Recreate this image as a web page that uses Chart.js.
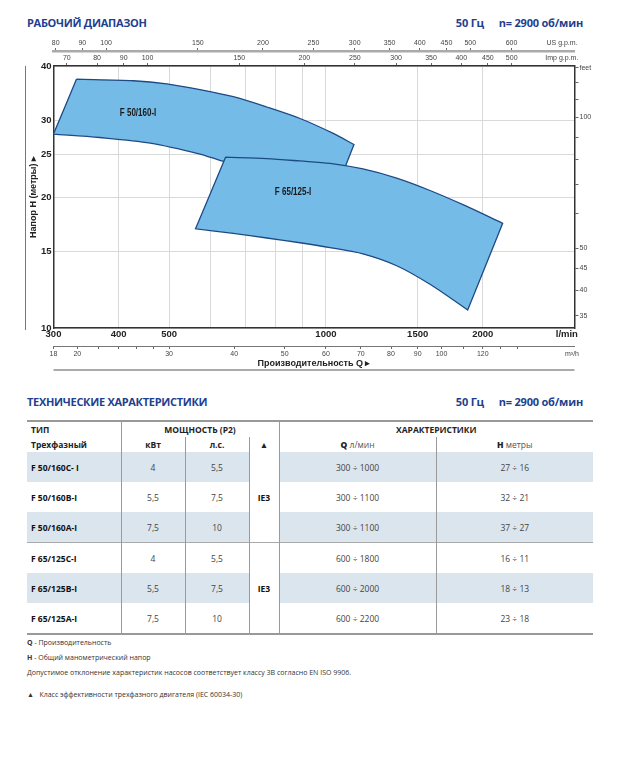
<!DOCTYPE html>
<html>
<head>
<meta charset="utf-8">
<script src="https://cdn.jsdelivr.net/npm/chart.js@4.4.1/dist/chart.umd.min.js"></script>
<style>
  body { margin: 0; width: 621px; height: 768px; background: #fff; position: relative; font-family: 'Open Sans', sans-serif; overflow: hidden; }
  .title { position: absolute; left: 27px; font-size: 11px; line-height: 13px; font-weight: bold; color: #1f3f8f; letter-spacing: -0.3px; white-space: nowrap; }
  .freq { position: absolute; font-size: 11px; line-height: 13px; font-weight: bold; color: #1f3f8f; letter-spacing: -0.2px; white-space: nowrap; }
  #chartBox { position: absolute; left: 0; top: 0; width: 621px; height: 385px; }
  table { position: absolute; left: 27px; top: 420px; width: 566px; border-collapse: collapse; table-layout: fixed; font-size: 8.5px; color: #444; }
  table td { padding: 0; text-align: center; white-space: nowrap; }
  table tr.h td { height: 15px; font-weight: bold; color: #222; }
  table tr.d td { height: 30px; }
  table td.name { text-align: left; padding-left: 4px; font-weight: bold; color: #111; }
  table tr.sh td { background: #dbe5ee; }
  table td.ie { background: #fff !important; font-weight: bold; color: #111; }
  .vl { border-left: 1px solid #9a9a9a; }
  .notes { position: absolute; left: 27px; font-size: 7px; color: #333; white-space: nowrap; }
</style>
</head>
<body>
<div class="title" style="top:16px">РАБОЧИЙ ДИАПАЗОН</div>
<div class="freq" style="top:16px;right:137px">50 Гц</div>
<div class="freq" style="top:16px;right:38px">n= 2900 об/мин</div>
<div id="chartBox"><canvas id="rangeChart"></canvas></div>

<div class="title" style="top:395px">ТЕХНИЧЕСКИЕ ХАРАКТЕРИСТИКИ</div>
<div class="freq" style="top:395px;right:137px">50 Гц</div>
<div class="freq" style="top:395px;right:38px">n= 2900 об/мин</div>

<table id="techTable">
  <colgroup><col style="width:94px"><col style="width:64px"><col style="width:64px"><col style="width:30px"><col style="width:157px"><col style="width:157px"></colgroup>
  <tbody></tbody>
</table>

<div class="notes" style="top:638px"><b>Q</b> - Производительность</div>
<div class="notes" style="top:653px"><b>H</b> - Общий манометрический напор</div>
<div class="notes" style="top:668px">Допустимое отклонение характеристик насосов соответствует классу 3B согласно EN ISO 9906.</div>
<div class="notes" style="top:690px">▲&nbsp;&nbsp; Класс эффективности трехфазного двигателя (IEC 60034-30)</div>

<script>
// --- chart data (l/min, metres) ---
const rangeNames = ['F 50/160-I', 'F 65/125-I'];

// outline of each working range, read clockwise from the top-left corner
const f50Q = [332, 427, 495, 573, 664, 770, 892, 1033, 1132, 1045, 781, 631, 573, 460, 368, 300, 332];
const f50H = [37.3, 37.0, 36.4, 35.3, 34.0, 32.2, 30.3, 28.0, 26.4, 20.7, 22.7, 24.2, 25.1, 26.6, 27.4, 27.9, 37.3];
const f50Corners = [0, 8, 9, 15, 16];

const f65Q = [642, 770, 892, 1018, 1178, 1367, 1584, 1833, 2184, 1871, 1584, 1367, 1178, 1018, 892, 770, 664, 562, 642];
const f65H = [24.7, 24.5, 24.2, 23.9, 23.2, 22.1, 20.7, 19.2, 17.4, 11.0, 12.6, 13.9, 14.8, 15.3, 15.7, 16.1, 16.5, 16.9, 24.7];
const f65Corners = [0, 8, 9, 17, 18];

const labelQ = [436, 865];
const labelH = [31.2, 20.5];

// axis ticks
const flowTicks = [300, 400, 500, 600, 700, 800, 900, 1000, 1500, 2000];
const flowLabels = [300, 400, 500, 1000, 1500, 2000];
const headTicks = [10, 15, 20, 25, 30, 40];
const usGpmTicks = [80, 90, 100, 150, 200, 250, 300, 350, 400, 450, 500, 600];
const impGpmTicks = [70, 80, 90, 100, 150, 200, 250, 300, 350, 400, 450, 500];
const m3hTicks = [18, 20, 22, 24, 26, 28, 30, 40, 50, 60, 70, 80, 90, 100, 110, 120, 130, 140];
const m3hLabels = [18, 20, 30, 40, 50, 60, 70, 80, 90, 100, 120];
const feetTicks = [35, 40, 45, 50, 60, 70, 80, 90, 100, 110, 120, 130];
const feetLabels = [35, 40, 45, 50, 100];

// table
const models = ['F 50/160C- I', 'F 50/160B-I', 'F 50/160A-I', 'F 65/125C-I', 'F 65/125B-I', 'F 65/125A-I'];
const powerKw = ['4', '5,5', '7,5', '4', '5,5', '7,5'];
const powerHp = ['5,5', '7,5', '10', '5,5', '7,5', '10'];
const flowRange = ['300 ÷ 1000', '300 ÷ 1100', '300 ÷ 1100', '600 ÷ 1800', '600 ÷ 2000', '600 ÷ 2200'];
const headRange = ['27 ÷ 16', '32 ÷ 21', '37 ÷ 27', '16 ÷ 11', '18 ÷ 13', '23 ÷ 18'];

const US_GAL = 3.78541, IMP_GAL = 4.54609, M_TO_FT = 3.28084;
const NARROW = "'Liberation Sans', Arial, sans-serif";
const CLEAR = 'rgba(0,0,0,0)';

// corners are doubled so the curve tension keeps them sharp
function outline(qs, hs, corners) {
    const pts = [];
    qs.forEach((q, i) => {
        pts.push({x: q, y: hs[i]});
        if (corners.includes(i)) pts.push({x: q, y: hs[i]});
    });
    return pts;
}

function fixedTicks(list, extra) {
    return s => { s.ticks = list.concat(extra || []).map(v => ({value: v})); };
}

const rangeLabels = {
    id: 'rangeLabels',
    afterDatasetsDraw(chart) {
        const {ctx, chartArea, scales} = chart;
        ctx.save();
        ctx.font = 'bold 10px ' + NARROW;
        ctx.fillStyle = '#1a1a1a';
        ctx.textAlign = 'center';
        ctx.textBaseline = 'middle';
        rangeNames.forEach((n, i) => {
            const px = scales.x.getPixelForValue(labelQ[i]);
            const py = scales.y.getPixelForValue(labelH[i]);
            ctx.save();
            ctx.translate(px, py);
            ctx.scale(0.8, 1); // the original uses a condensed face
            ctx.fillText(n, 0, 0);
            ctx.restore();
        });
        // thin bracket left of the head axis
        ctx.strokeStyle = '#777';
        ctx.lineWidth = 1;
        ctx.beginPath();
        ctx.moveTo(25.5, chartArea.top);
        ctx.lineTo(25.5, chartArea.bottom + 2);
        ctx.stroke();
        // grey rule under the flow axis title
        ctx.strokeStyle = '#aaa';
        ctx.lineWidth = 2;
        ctx.beginPath();
        ctx.moveTo(chartArea.left, scales.m3h.bottom - 1);
        ctx.lineTo(chartArea.right, scales.m3h.bottom - 1);
        ctx.stroke();
        ctx.restore();
    }
};

const smallFont = {family: NARROW, size: 7};
const boldFont = {family: NARROW, size: 9.5, weight: 'bold'};

new Chart(document.getElementById('rangeChart'), {
    type: 'line',
    data: {
        datasets: [
            {label: rangeNames[1], data: outline(f65Q, f65H, f65Corners)},
            {label: rangeNames[0], data: outline(f50Q, f50H, f50Corners)}
        ].map(d => Object.assign(d, {
            xAxisID: 'x', yAxisID: 'y',
            fill: 'shape',
            backgroundColor: '#74bbe8',
            borderColor: '#1d4a85',
            borderWidth: 1.3,
            pointRadius: 0,
            tension: 0.3
        }))
    },
    options: {
        responsive: true,
        maintainAspectRatio: false,
        animation: false,
        layout: {padding: {left: 23, right: 21, top: 36, bottom: 14}},
        plugins: {legend: {display: false}, tooltip: {enabled: false}},
        scales: {
            x: {
                type: 'logarithmic', position: 'bottom', weight: 0, min: 300, max: 3000,
                afterBuildTicks: fixedTicks(flowTicks, [2900]),
                afterFit: s => { s.height = 18; },
                ticks: {autoSkip: false, maxRotation: 0, padding: 1, color: '#222', font: boldFont,
                    callback: v => v === 2900 ? 'l/min' : (flowLabels.includes(v) ? String(v) : '')},
                grid: {drawTicks: false, color: c => (c.tick && c.tick.value === 2900) ? CLEAR : '#d9d9d9'},
                border: {color: '#333', width: 1.5}
            },
            m3h: {
                type: 'logarithmic', position: 'bottom', weight: 1, min: 18, max: 180,
                afterBuildTicks: fixedTicks(m3hTicks, [178]),
                afterFit: s => { s.height = 25; },
                ticks: {autoSkip: false, maxRotation: 0, padding: 1.3, color: '#444', font: smallFont,
                    callback: v => v === 178 ? 'm³/h' : (m3hLabels.includes(v) ? String(v) : '')},
                grid: {drawOnChartArea: false, tickLength: 3, color: c => (c.tick && c.tick.value === 178) ? CLEAR : '#666'},
                border: {color: '#777', width: 1},
                title: {display: true, text: 'Производительность Q ▸', color: '#222',
                    font: {family: NARROW, size: 9, weight: 'bold'}, padding: {top: 0, bottom: 1.6}}
            },
            imp: {
                type: 'logarithmic', position: 'top', weight: 0, min: 300 / IMP_GAL, max: 3000 / IMP_GAL,
                afterBuildTicks: fixedTicks(impGpmTicks, [624]),
                afterFit: s => { s.height = 15; },
                ticks: {autoSkip: false, maxRotation: 0, padding: 0.5, color: '#444', font: smallFont,
                    callback: v => v === 624 ? 'Imp g.p.m.' : String(v)},
                grid: {drawOnChartArea: false, tickLength: 3, color: c => (c.tick && c.tick.value === 624) ? CLEAR : '#666'},
                border: {color: '#333', width: 1.5}
            },
            us: {
                type: 'logarithmic', position: 'top', weight: 1, min: 300 / US_GAL, max: 3000 / US_GAL,
                afterBuildTicks: fixedTicks(usGpmTicks, [750]),
                afterFit: s => { s.height = 15; },
                ticks: {autoSkip: false, maxRotation: 0, padding: 0.5, color: '#444', font: smallFont,
                    callback: v => v === 750 ? 'US g.p.m.' : String(v)},
                grid: {drawOnChartArea: false, tickLength: 3, color: c => (c.tick && c.tick.value === 750) ? CLEAR : '#666'},
                border: {color: '#aaa', width: 2.5}
            },
            y: {
                type: 'logarithmic', position: 'left', min: 10, max: 40,
                afterBuildTicks: fixedTicks(headTicks),
                afterFit: s => { s.width = 30.5; },
                ticks: {autoSkip: false, padding: 2, color: '#222', font: boldFont, callback: v => String(v)},
                grid: {drawTicks: false, color: '#d9d9d9'},
                border: {color: '#333', width: 1.5},
                title: {display: true, text: 'Напор Н (метры) ▸', color: '#222',
                    font: {family: NARROW, size: 9, weight: 'bold'}, padding: {top: 5, bottom: 0}}
            },
            feet: {
                type: 'logarithmic', position: 'right', min: 10 * M_TO_FT, max: 40 * M_TO_FT,
                afterBuildTicks: fixedTicks(feetTicks),
                afterFit: s => { s.width = 25.5; },
                ticks: {autoSkip: false, padding: 1, color: '#444', font: smallFont,
                    callback: v => v === 130 ? 'feet' : (feetLabels.includes(v) ? String(v) : '')},
                grid: {drawOnChartArea: false, tickLength: 4, color: '#666'},
                border: {color: '#333', width: 1.5}
            }
        }
    },
    plugins: [rangeLabels]
});

// --- table ---
const body = document.querySelector('#techTable tbody');
let html = '<tr class="h" style="border-top:2px solid #999">' +
    '<td class="name" style="color:#222">ТИП</td>' +
    '<td colspan="3" class="vl">МОЩНОСТЬ (P2)</td>' +
    '<td colspan="2" class="vl">ХАРАКТЕРИСТИКИ</td></tr>' +
    '<tr class="h"><td class="name" style="color:#222">Трехфазный</td>' +
    '<td class="vl">кВт</td><td class="vl">л.с.</td><td class="vl">▲</td>' +
    '<td class="vl"><b>Q</b> <span style="font-weight:normal;color:#555">л/мин</span></td>' +
    '<td class="vl"><b>H</b> <span style="font-weight:normal;color:#555">метры</span></td></tr>';
models.forEach((m, i) => {
    const shaded = (i === 0 || i === 2 || i === 4);
    const sep = i === 3 ? ' style="border-top:1.5px solid #aaa"' : (i === 5 ? ' style="border-bottom:2px solid #999"' : '');
    html += '<tr class="d' + (shaded ? ' sh' : '') + '"' + sep + '>' +
        '<td class="name">' + m + '</td>' +
        '<td class="vl">' + powerKw[i] + '</td>' +
        '<td class="vl">' + powerHp[i] + '</td>' +
        (i % 3 === 0 ? '<td rowspan="3" class="vl ie">IE3</td>' : '') +
        '<td class="vl">' + flowRange[i] + '</td>' +
        '<td class="vl">' + headRange[i] + '</td></tr>';
});
body.innerHTML = html;
</script>
</body>
</html>
